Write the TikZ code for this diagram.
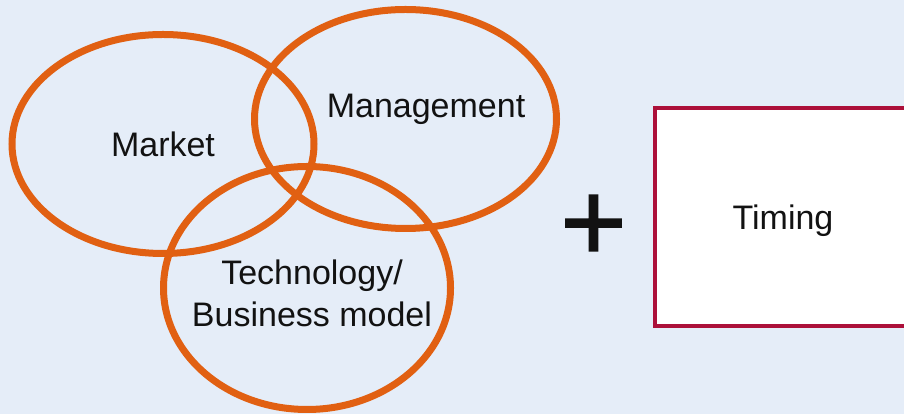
\documentclass[tikz,border=0pt]{standalone}
\usepackage{fontspec}
\setmainfont{Liberation Sans}
\newfontfamily\plusfont[FakeBold=1.3]{Liberation Sans}
\usepackage{tikz}
\usetikzlibrary{positioning,shapes.geometric}
\usepackage{xcolor}
\definecolor{mybg}{RGB}{229,237,248}
\definecolor{myorange}{RGB}{225,96,18}
\definecolor{mycrimson}{RGB}{172,16,58}
\tikzstyle{ring}=[ellipse,draw=myorange,line width=7pt,inner sep=0,outer sep=0]
\tikzstyle{lbl}=[font=\fontsize{34}{42}\selectfont,align=center,inner sep=0,text=black!93]

\begin{document}
\begin{tikzpicture}[x=1pt,y=1pt]
\useasboundingbox (0,0) rectangle (904,414);
\fill[mybg] (0,0) rectangle (904,414);
\clip (0,0) rectangle (904,414);

\node[ring,minimum width=302pt,minimum height=219pt] (market) at (163,270) {};
\node[ring,minimum width=302pt,minimum height=219pt] (mgmt) at (405.5,295) {};
\node[ring,minimum width=287pt,minimum height=243pt] (tech) at (307,126) {};

\node[lbl,anchor=base] (markettxt) at ([yshift=-13pt]market.center) {Market};
\node[lbl,anchor=base] (mgmttxt) at ([xshift=20.5pt,yshift=1pt]mgmt.center) {Management};
\node[lbl] (techtxt) at ([xshift=5pt,yshift=-5pt]tech.center) {Technology/\\Business model};

\node[font=\fontsize{114}{114}\plusfont,anchor=base,inner sep=0,text=black!93] (plus) at (593.5,153) {+};

\node[draw=mycrimson,line width=4pt,fill=white,minimum width=256pt,minimum height=218pt] (timing) at (783,197) {};
\node[lbl,anchor=base] (timingtxt) at ([yshift=-13pt]timing.center) {Timing};

\end{tikzpicture}
\end{document}
